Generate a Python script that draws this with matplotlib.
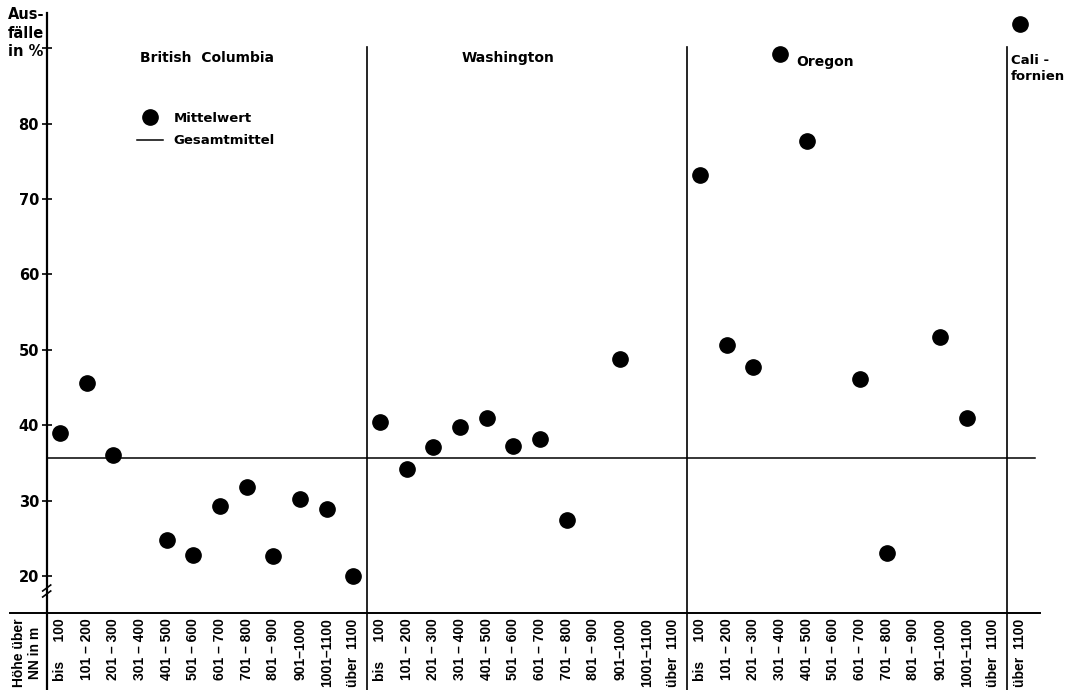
import matplotlib
matplotlib.use("Agg")
import matplotlib.pyplot as plt
import matplotlib.transforms as mtransforms
from matplotlib.lines import Line2D

# ---------------- data ----------------
regions = ["British  Columbia", "Washington", "Oregon", "Cali -\nfornien"]
elev_classes = ["bis     100", "101 – 200", "201 – 300", "301 – 400", "401 – 500",
                "501 – 600", "601 – 700", "701 – 800", "801 – 900", "901–1000",
                "1001–1100", "über  1100"]
ca_classes = ["über  1100"]
bc_values = [38.9, 45.6, 36.1, None, 24.7, 22.8, 29.3, 31.8, 22.6, 30.2, 28.9, 20.0]
wa_values = [40.4, 34.2, 37.1, 39.8, 40.9, 37.3, 38.1, 27.4, None, 48.8, None, None]
or_values = [73.2, 50.6, 47.7, 89.3, 77.7, None, 46.1, 23.0, None, 51.7, 40.9, None]
ca_values = [93.3]
gesamtmittel = 35.6
y_ticks = [20, 30, 40, 50, 60, 70, 80, 90]
y_ticklabels = ["20", "30", "40", "50", "60", "70", "80", ""]

plt.rcParams["font.family"] = ["DejaVu Sans"]
plt.rcParams["font.weight"] = "bold"
NARROW = ["Liberation Sans Narrow", "Liberation Sans", "DejaVu Sans"]

W, H = 1066, 690
fig = plt.figure(figsize=(W / 100, H / 100), dpi=100)
left_px, right_px, top_px, bot_px = 46.7, 1040, 13, 613
ax = fig.add_axes([left_px / W, 1 - bot_px / H, (right_px - left_px) / W, (bot_px - top_px) / H])
ax.set_xlim(-0.5, 36.75)
ax.set_ylim(15.07, 94.7)
for s in ax.spines.values():
    s.set_visible(False)

# positions & labels
groups = [bc_values, wa_values, or_values, ca_values]
group_classes = [elev_classes, elev_classes, elev_classes, ca_classes]
xs, ys, tick_pos, tick_lab = [], [], [], []
start = 0
for vals, cls in zip(groups, group_classes):
    for k, (v, c) in enumerate(zip(vals, cls)):
        tick_pos.append(start + k)
        tick_lab.append(c)
        if v is not None:
            xs.append(start + k)
            ys.append(v)
    start += len(cls)
seps = [11.5, 23.5, 35.5]

# points
ax.plot(xs, ys, "o", color="black", ms=11, ls="none", clip_on=False, zorder=5)
# mean line
ax.axhline(gesamtmittel, xmin=0, xmax=0.995, color="black", lw=1.1)

# axes lines
ext = -(H - bot_px) / (bot_px - top_px)
ax.plot([0, 0], [ext, 1], color="black", lw=1.6, transform=ax.transAxes, clip_on=False)
ax.plot([(10 - left_px) / (right_px - left_px), 1], [0, 0], color="black", lw=1.4,
        transform=ax.transAxes, clip_on=False)
blend = mtransforms.blended_transform_factory(ax.transData, ax.transAxes)
top_sep = (bot_px - 47) / (bot_px - top_px)
for sx in seps:
    ax.plot([sx, sx], [ext, top_sep], color="black", lw=1.2, transform=blend, clip_on=False)

# axis break marks
dx = 4 / (right_px - left_px)
dy = 3 / (bot_px - top_px)
for yb in [(bot_px - 588) / (bot_px - top_px), (bot_px - 594) / (bot_px - top_px)]:
    ax.plot([-dx, dx], [yb - dy, yb + dy], color="black", lw=1.2,
            transform=ax.transAxes, clip_on=False)

# ticks
ax.set_yticks(y_ticks)
ax.set_yticklabels(y_ticklabels, fontsize=10.5, fontweight="bold")
ax.tick_params(axis="y", direction="inout", length=7, width=1.2, pad=2)
ax.set_xticks(tick_pos)
ax.set_xticklabels(tick_lab, rotation=90, fontsize=10, fontweight="bold", family=NARROW)
ax.tick_params(axis="x", length=0, pad=4)

# region titles
ax.text(5.51, 88.7, regions[0], ha="center", va="center", fontsize=10, fontweight="bold")
ax.text(16.8, 88.7, regions[1], ha="center", va="center", fontsize=10, fontweight="bold")
ax.text(27.6, 88.2, regions[2], ha="left", va="center", fontsize=10, fontweight="bold")
ax.text(35.65, 89.2, regions[3], ha="left", va="top", fontsize=9.5, fontweight="bold",
        linespacing=1.3)

# axis labels
fig.text(8 / W, 1 - 7 / H, "Aus-\nfälle\nin %", ha="left", va="top", fontsize=10.5,
         fontweight="bold", linespacing=1.3)
fig.text(27 / W, 1 - 653 / H, "Höhe über\nNN in m", ha="center", va="center",
         rotation=90, fontsize=10, fontweight="bold", linespacing=1.25, family=NARROW)

# legend
handles = [Line2D([], [], marker="o", ls="none", color="black", ms=11),
           Line2D([], [], color="black", lw=1.1)]
ax.legend(handles, ["Mittelwert", "Gesamtmittel"], loc="upper left",
          bbox_to_anchor=(130 / W, 1 - 105 / H), bbox_transform=fig.transFigure,
          frameon=False, borderpad=0, handlelength=2.0, handletextpad=0.8,
          labelspacing=0.75, prop={"size": 9.5, "weight": "bold"})

fig.savefig("out.png", dpi=100)
